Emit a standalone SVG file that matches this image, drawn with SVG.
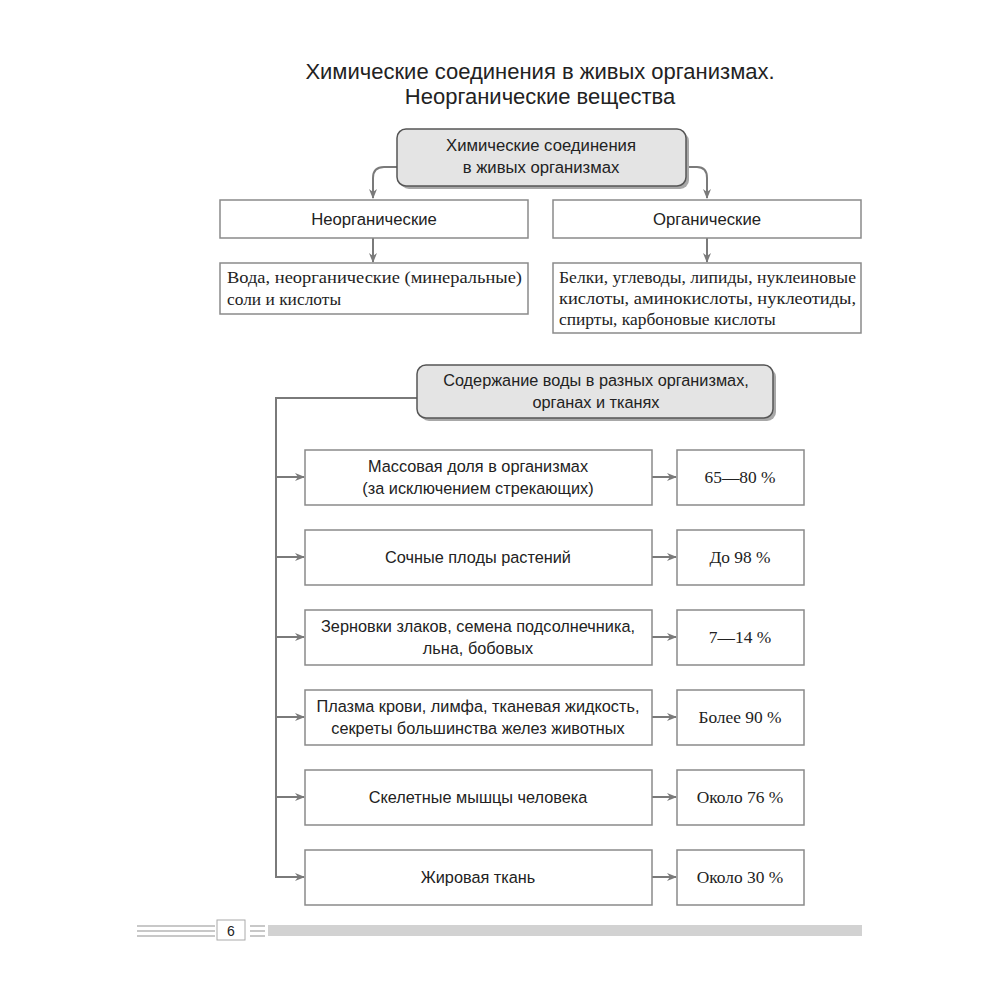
<svg xmlns="http://www.w3.org/2000/svg" width="1000" height="1000" viewBox="0 0 1000 1000">
<style>
.t{font-family:"Liberation Sans",Arial,sans-serif;font-size:16.3px;fill:#222;text-anchor:middle}
.tt{font-size:16.7px}
.s{font-family:"Liberation Serif","Times New Roman",serif;font-size:17.4px;fill:#222}
.sm{text-anchor:middle}
.title{font-family:"Liberation Sans",Arial,sans-serif;font-size:22px;fill:#222;text-anchor:middle}
.box{fill:#fff;stroke:#8a8a8a;stroke-width:1.5}
.rbox{fill:#e4e4e4;stroke:#555;stroke-width:1.5}
.sh{fill:#a8a8a8}
.ln{fill:none;stroke:#7a7a7a;stroke-width:2}
</style>
<defs>
<marker id="ar" markerWidth="10" markerHeight="8" refX="9" refY="4" orient="auto" markerUnits="userSpaceOnUse">
<path d="M0,0 L10,4 L0,8 L3,4 Z" fill="#7a7a7a"/>
</marker>
</defs>
<rect width="1000" height="1000" fill="#fff"/>
<text class="title" x="540" y="79">Химические соединения в живых организмах.</text>
<text class="title" x="540" y="104">Неорганические вещества</text>

<g id="connectors">
<path class="ln" d="M397,167 L384,167 Q373,167 373,178 L373,198" marker-end="url(#ar)"/>
<path class="ln" d="M686,167 L697,167 Q707,167 707,178 L707,198" marker-end="url(#ar)"/>
<path class="ln" d="M373,238 L373,262" marker-end="url(#ar)"/>
<path class="ln" d="M707,238 L707,262" marker-end="url(#ar)"/>
<path class="ln" d="M417,398 L276,398 L276,878"/>
<path class="ln" d="M276,477 L304,477" marker-end="url(#ar)"/>
<path class="ln" d="M276,557 L304,557" marker-end="url(#ar)"/>
<path class="ln" d="M276,637 L304,637" marker-end="url(#ar)"/>
<path class="ln" d="M276,717 L304,717" marker-end="url(#ar)"/>
<path class="ln" d="M276,797 L304,797" marker-end="url(#ar)"/>
<path class="ln" d="M276,877 L304,877" marker-end="url(#ar)"/>
<path class="ln" d="M652,477 L676,477" marker-end="url(#ar)"/>
<path class="ln" d="M652,557 L676,557" marker-end="url(#ar)"/>
<path class="ln" d="M652,637 L676,637" marker-end="url(#ar)"/>
<path class="ln" d="M652,717 L676,717" marker-end="url(#ar)"/>
<path class="ln" d="M652,797 L676,797" marker-end="url(#ar)"/>
<path class="ln" d="M652,877 L676,877" marker-end="url(#ar)"/>
</g>

<g id="root">
<rect class="sh" x="400" y="132" width="289" height="57" rx="9"/>
<rect class="rbox" x="397" y="129" width="289" height="57" rx="9"/>
<text class="t tt" x="541" y="151">Химические соединения</text>
<text class="t tt" x="541" y="173">в живых организмах</text>
</g>
<g id="inorg">
<rect class="box" x="220" y="200" width="308" height="38"/>
<text class="t tt" x="374" y="225">Неорганические</text>
</g>
<g id="org">
<rect class="box" x="553" y="200" width="308" height="38"/>
<text class="t tt" x="707" y="225">Органические</text>
</g>
<g id="inorg-list">
<rect class="box" x="220" y="263" width="308" height="51"/>
<text class="s" x="227" y="283" textLength="295" lengthAdjust="spacingAndGlyphs">Вода, неорганические (минеральные)</text>
<text class="s" x="227" y="305">соли и кислоты</text>
</g>
<g id="org-list">
<rect class="box" x="553" y="263" width="308" height="70"/>
<text class="s" x="559" y="283" textLength="297" lengthAdjust="spacingAndGlyphs">Белки, углеводы, липиды, нуклеиновые</text>
<text class="s" x="559" y="304" textLength="297" lengthAdjust="spacingAndGlyphs">кислоты, аминокислоты, нуклеотиды,</text>
<text class="s" x="559" y="325">спирты, карбоновые кислоты</text>
</g>

<g id="water">
<rect class="sh" x="420" y="368" width="356" height="53" rx="9"/>
<rect class="rbox" x="417" y="365" width="356" height="53" rx="9"/>
<text class="t" x="596" y="386">Содержание воды в разных организмах,</text>
<text class="t" x="596" y="408">органах и тканях</text>
</g>

<g id="r1">
<rect class="box" x="305" y="450" width="347" height="55"/>
<text class="t" x="478" y="472">Массовая доля в организмах</text>
<text class="t" x="478" y="494">(за исключением стрекающих)</text>
</g>
<g id="v1"><rect class="box" x="677" y="450" width="127" height="55"/><text class="s sm" x="740" y="483">65—80 %</text></g>

<g id="r2">
<rect class="box" x="305" y="530" width="347" height="55"/>
<text class="t" x="478" y="563">Сочные плоды растений</text>
</g>
<g id="v2"><rect class="box" x="677" y="530" width="127" height="55"/><text class="s sm" x="740" y="563">До 98 %</text></g>

<g id="r3">
<rect class="box" x="305" y="610" width="347" height="55"/>
<text class="t" x="478" y="632">Зерновки злаков, семена подсолнечника,</text>
<text class="t" x="478" y="654">льна, бобовых</text>
</g>
<g id="v3"><rect class="box" x="677" y="610" width="127" height="55"/><text class="s sm" x="740" y="643">7—14 %</text></g>

<g id="r4">
<rect class="box" x="305" y="690" width="347" height="55"/>
<text class="t" x="478" y="712">Плазма крови, лимфа, тканевая жидкость,</text>
<text class="t" x="478" y="734">секреты большинства желез животных</text>
</g>
<g id="v4"><rect class="box" x="677" y="690" width="127" height="55"/><text class="s sm" x="740" y="723">Более 90 %</text></g>

<g id="r5">
<rect class="box" x="305" y="770" width="347" height="55"/>
<text class="t" x="478" y="803">Скелетные мышцы человека</text>
</g>
<g id="v5"><rect class="box" x="677" y="770" width="127" height="55"/><text class="s sm" x="740" y="803">Около 76 %</text></g>

<g id="r6">
<rect class="box" x="305" y="850" width="347" height="55"/>
<text class="t" x="478" y="883">Жировая ткань</text>
</g>
<g id="v6"><rect class="box" x="677" y="850" width="127" height="55"/><text class="s sm" x="740" y="883">Около 30 %</text></g>

<g id="footer">
<g stroke="#c8c8c8" stroke-width="2">
<line x1="137" y1="926" x2="215" y2="926"/>
<line x1="137" y1="931" x2="215" y2="931"/>
<line x1="137" y1="936" x2="215" y2="936"/>
<line x1="250" y1="926" x2="265" y2="926"/>
<line x1="250" y1="931" x2="265" y2="931"/>
<line x1="250" y1="936" x2="265" y2="936"/>
</g>
<rect x="217" y="920" width="28" height="20" fill="#fff" stroke="#aaa" stroke-width="1"/>
<text class="t" x="231" y="936" style="font-size:14px">6</text>
<rect x="268" y="925" width="594" height="11" fill="#d2d2d2"/>
</g>
</svg>
